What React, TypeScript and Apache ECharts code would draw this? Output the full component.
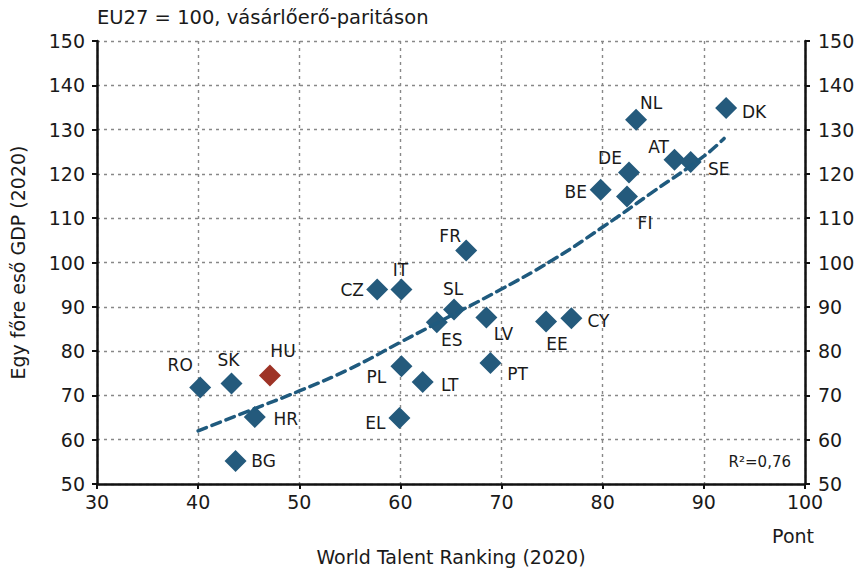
import React, { useEffect, useRef } from "react";
import * as echarts from "echarts";

const countries = ["RO","SK","HU","HR","BG","PL","LT","EL","CZ","IT","FR","SL","ES","LV","PT","EE","CY","BE","DE","FI","NL","AT","SE","DK"];
const talent = [40.2,43.3,47.1,45.6,43.7,60.1,62.2,59.9,57.7,60.1,66.5,65.3,63.6,68.5,68.9,74.4,76.9,79.8,82.6,82.4,83.3,87.1,88.7,92.2];
const gdp = [71.8,72.7,74.5,65.1,55.2,76.6,73.0,64.9,93.9,93.9,102.7,89.4,86.5,87.6,77.3,86.7,87.4,116.4,120.3,114.9,132.2,123.2,122.7,134.9];
const trendX = [40,45,50,55,60,65,70,75,80,85,90,92];
const trendY = [62,66.5,71,76,82,88,94,100.5,108,116,124,128];
const xTicks = [30,40,50,60,70,80,90,100];
const yTicks = [50,60,70,80,90,100,110,120,130,140,150];
const highlight = "HU";

const labelOffsets: Record<string, [number, number]> = {
  RO: [-20, -22], SK: [-3, -23], HU: [13, -24], HR: [31, 2], BG: [28, 0],
  PL: [-25, 11], LT: [27, 3], EL: [-24, 5], CZ: [-25, 0], IT: [-1, -20],
  FR: [-16, -15], SL: [-1, -20], ES: [15, 18], LV: [17, 17], PT: [27, 11],
  EE: [11, 23], CY: [27, 3], BE: [-25, 2], DE: [-19, -15], FI: [18, 27],
  NL: [15, -17], AT: [-16, -13], SE: [28, 7], DK: [28, 4],
};

const FONT = "DejaVu Sans";
const BLUE = "#245a7c";
const RED = "#9e3326";
const TEXT = "#1a1a1a";

export default function App() {
  const ref = useRef<HTMLDivElement>(null);
  useEffect(() => {
    if (!ref.current) return;
    const chart = echarts.init(ref.current, undefined, { renderer: "svg" });
    const scatterData = countries.map((c, i) => ({
      name: c,
      value: [talent[i], gdp[i]],
      itemStyle: { color: c === highlight ? RED : BLUE, opacity: 1 },
      label: {
        show: true,
        formatter: c,
        position: "inside",
        offset: labelOffsets[c],
        color: TEXT,
        fontFamily: FONT,
        fontSize: 17,
      },
    }));
    const yAxisBase = {
      type: "value" as const,
      min: yTicks[0],
      max: yTicks[yTicks.length - 1],
      interval: 10,
      axisLine: { show: true, lineStyle: { color: "#111", width: 2.5 } },
      axisTick: { show: true, length: 5, lineStyle: { color: "#111", width: 2 } },
      axisLabel: { color: TEXT, fontFamily: FONT, fontSize: 19, margin: 12 },
    };
    chart.setOption({
      animation: false,
      grid: { left: 97, right: 56, top: 41, bottom: 86 },
      xAxis: {
        type: "value",
        min: xTicks[0],
        max: xTicks[xTicks.length - 1],
        interval: 10,
        axisLine: { show: true, onZero: false, lineStyle: { color: "#111", width: 2.5 } },
        axisTick: { show: true, length: 5, lineStyle: { color: "#111", width: 2 } },
        axisLabel: { color: TEXT, fontFamily: FONT, fontSize: 19, margin: 8 },
        splitLine: { show: true, lineStyle: { color: "#888", width: 1.4, type: [3, 4] } },
        name: "World Talent Ranking (2020)",
        nameLocation: "middle",
        nameGap: 63,
        nameTextStyle: { color: TEXT, fontFamily: FONT, fontSize: 19 },
      },
      yAxis: [
        {
          ...yAxisBase,
          position: "left",
          splitLine: { show: true, lineStyle: { color: "#888", width: 1.4, type: [3, 4] } },
          name: "Egy főre eső GDP (2020)",
          nameLocation: "middle",
          nameRotate: 90,
          nameGap: 70,
          nameTextStyle: { color: TEXT, fontFamily: FONT, fontSize: 19 },
        },
        {
          ...yAxisBase,
          position: "right",
          splitLine: { show: false },
          axisLabel: { ...yAxisBase.axisLabel, margin: 13 },
        },
      ],
      graphic: [
        {
          type: "text",
          left: 97,
          top: 7,
          style: { text: "EU27 = 100, vásárlőerő-paritáson", fill: TEXT, font: `19.5px "${FONT}"` },
        },
        {
          type: "text",
          right: 47,
          top: 526,
          style: { text: "Pont", fill: TEXT, font: `19px "${FONT}"` },
        },
        {
          type: "text",
          right: 70,
          top: 454,
          style: { text: "R²=0,76", fill: TEXT, font: `15px "${FONT}"` },
        },
      ],
      series: [
        {
          type: "scatter",
          symbol: "diamond",
          symbolSize: [22, 22],
          data: scatterData,
          z: 3,
        },
        {
          type: "line",
          data: trendX.map((x, i) => [x, trendY[i]]),
          smooth: true,
          symbol: "none",
          lineStyle: { color: "#1f5a7e", width: 3.5, type: [9, 6], cap: "round" },
          z: 4,
          silent: true,
        },
      ],
    });
    return () => chart.dispose();
  }, []);
  return <div ref={ref} style={{ width: 861, height: 571, position: "absolute", left: 0, top: 0 }} />;
}
